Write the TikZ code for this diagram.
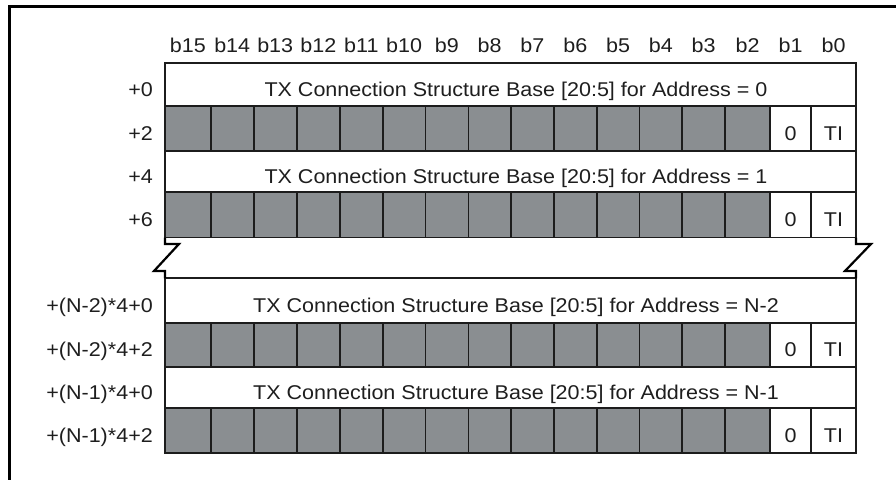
\documentclass[tikz,border=0pt]{standalone}
\usepackage{fontspec}
\setmainfont{Liberation Sans}[FakeStretch=1.08]
\definecolor{cellgray}{RGB}{138,142,145}
\definecolor{linec}{RGB}{28,28,28}
\definecolor{txt}{RGB}{30,30,30}
\tikzset{
  lbl/.style={font=\fontsize{20}{21}\selectfont, inner sep=0pt, text=txt, anchor=base},
  rlbl/.style={lbl, anchor=base east},
  cellbox/.style={draw=linec, line width=1.6bp},
  breakline/.style={draw=black, line width=2.2bp, line join=miter},
  frameline/.style={draw=black, line width=3bp},
}
\newcommand\colpairs{165/210.7,210.7/253.7,253.7/296.7,296.7/340,340/382.7,382.7/425.5,425.5/468.3,468.3/511,511/553.9,553.9/596.7,596.7/639.5,639.5/682.2,682.2/725,725/770,770/811,811/856}
% #1 top, #2 bottom, #3 name
\newcommand\bitrow[3]{%
  \foreach \a/\b [count=\i] in \colpairs {%
    \ifnum\i<15 \fill[cellgray] (\a,#1) rectangle (\b,#2);\fi
    \draw[cellbox] (\a,#1) rectangle (\b,#2);
  }
  \node[lbl] (#3z) at (790.5,{(#1+#2)/2+12}) {0};
  \node[lbl] (#3t) at (833.5,{(#1+#2)/2+12}) {TI};
}
% #1 top, #2 bottom, #3 name, #4 text
\newcommand\textrow[4]{%
  \draw[cellbox] (165,#1) rectangle (856,#2);
  \node[lbl] (#3) at (516,{(#1+#2)/2+12}) {#4};
}
\begin{document}
\begin{tikzpicture}[x=1bp,y=-1bp]
\useasboundingbox (0,0) rectangle (896,480);
% outer frame (top and left edges)
\coordinate (fb) at (9.5,480);
\coordinate (fc) at (9.5,6.5);
\coordinate (fr) at (896,6.5);
\draw[frameline] (fb) -- (fc) -- (fr);
% header
\foreach \a/\b [count=\i] in \colpairs {%
  \pgfmathtruncatemacro\bit{16-\i}
  \node[lbl] (h\bit) at ({(\a+\b)/2},52.7) {b\bit};
}
% group 1
\textrow{63.3}{106.2}{r0}{TX Connection Structure Base [20:5] for Address = 0}
\bitrow{106.2}{151}{r2}
\textrow{151}{192}{r4}{TX Connection Structure Base [20:5] for Address = 1}
\bitrow{192}{237.7}{r6}
% group 2
\textrow{278.3}{322.7}{s0}{TX Connection Structure Base [20:5] for Address = N-2}
\bitrow{322.7}{366.7}{s2}
\textrow{366.7}{407.7}{s4}{TX Connection Structure Base [20:5] for Address = N-1}
\bitrow{407.7}{452.7}{s6}
% row labels
\node[rlbl] (l0) at (153,{(63.3+106.2)/2+12}) {+0};
\node[rlbl] (l2) at (153,{(106.2+151)/2+12}) {+2};
\node[rlbl] (l4) at (153,{(151+192)/2+12}) {+4};
\node[rlbl] (l6) at (153,{(192+237.7)/2+12}) {+6};
\node[rlbl] (m0) at (153,{(278.3+322.7)/2+12}) {+(N-2)*4+0};
\node[rlbl] (m2) at (153,{(322.7+366.7)/2+12}) {+(N-2)*4+2};
\node[rlbl] (m4) at (153,{(366.7+407.7)/2+12}) {+(N-1)*4+0};
\node[rlbl] (m6) at (153,{(407.7+452.7)/2+12}) {+(N-1)*4+2};
% break marks
\coordinate (la) at (165,237.7);
\coordinate (lb) at (165,278.3);
\coordinate (ra) at (856,237.7);
\coordinate (rb) at (856,278.3);
\draw[breakline] (la) -- (165,244) -- (179,244) -- (154,271) -- (165,271) -- (lb);
\draw[breakline] (ra) -- (856,244) -- (871,244) -- (845,271) -- (856,271) -- (rb);
\end{tikzpicture}
\end{document}
